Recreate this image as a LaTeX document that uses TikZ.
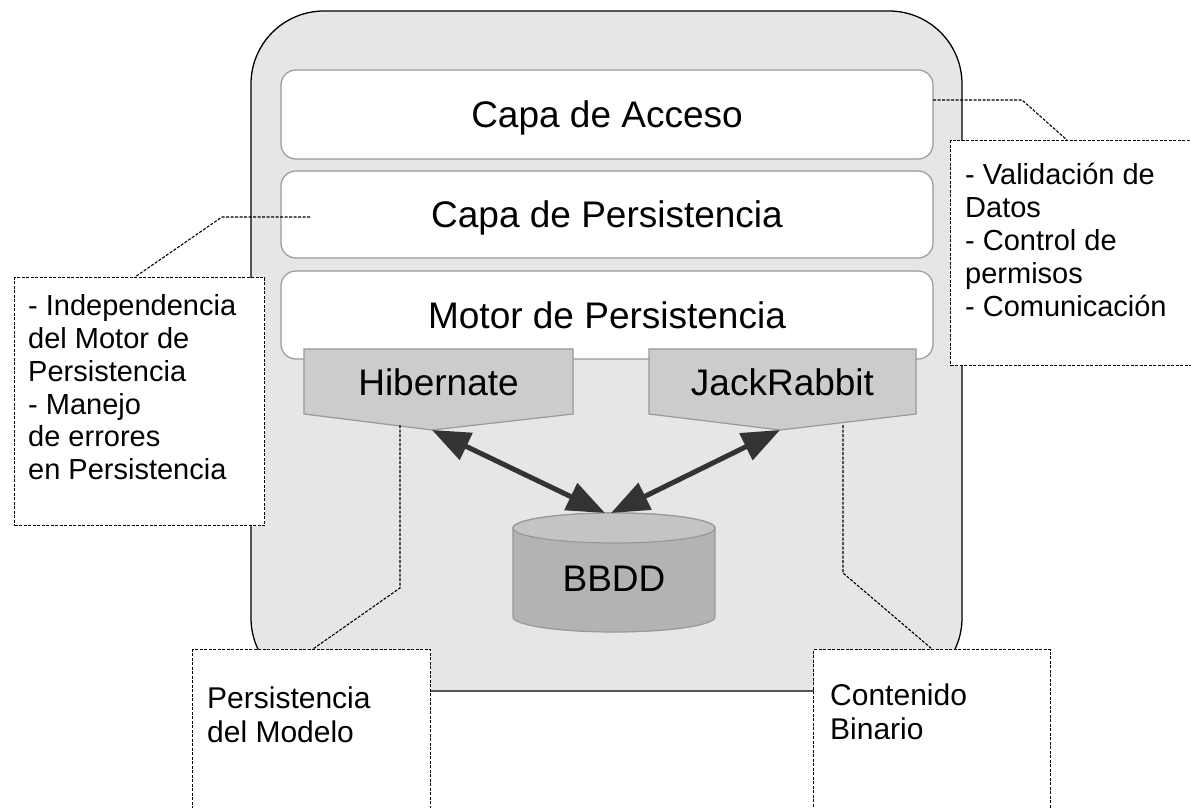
\documentclass[tikz,border=0pt]{standalone}
\usepackage{fontspec}
\setmainfont{Liberation Sans}
\usetikzlibrary{arrows.meta}
\definecolor{outerfill}{HTML}{E6E6E6}
\definecolor{layerline}{HTML}{999999}
\definecolor{enginefill}{HTML}{CCCCCC}
\definecolor{dbbody}{HTML}{B3B3B3}
\definecolor{dbtopfill}{HTML}{C4C4C4}
\definecolor{arrowcol}{HTML}{333333}
\begin{document}
\begin{tikzpicture}[x=1pt,y=-1pt,
  outerbox/.style={draw=black, line width=1.3pt, fill=outerfill, rounded corners=73pt, minimum width=711pt, minimum height=680pt, inner sep=0pt},
  layerbox/.style={draw=layerline, line width=1.2pt, fill=white, rounded corners=15pt, minimum width=652pt, inner sep=0pt, text height=26.5pt, text depth=0pt, font=\fontsize{37}{44}\selectfont},
  engine/.style={draw=layerline, line width=1.2pt, fill=enginefill},
  enginetext/.style={inner sep=0pt, text height=26.5pt, text depth=0pt, font=\fontsize{37}{44}\selectfont},
  notebox/.style={draw=black, line width=1.1pt, dash pattern=on 3pt off 1.5pt, fill=white},
  notetext/.style={inner sep=0pt, anchor=north west, align=left},
  leader/.style={draw=black, line width=1.1pt, dash pattern=on 3pt off 1.5pt},
  dbl/.style={draw=arrowcol, line width=5pt, {Triangle[length=38pt,width=29pt]}-{Triangle[length=38pt,width=29pt]}}
]
\useasboundingbox (0,0) rectangle (1191,808);
\clip (0,0) rectangle (1191,808);

% outer container
\node[outerbox] (outer) at (606.5,351) {};

% layers
\node[layerbox, minimum height=89pt] (acceso) at (607,114.5) {Capa de Acceso};
\node[layerbox, minimum height=87pt] (persist) at (607,214.5) {Capa de Persistencia};
\node[layerbox, minimum height=88pt] (motor) at (607,315) {Motor de Persistencia};

% engines
\path[engine] (304,349) -- (573,349) -- (573,414) -- (432,430) -- (304,414) -- cycle;
\node[enginetext] (hib) at (438.5,382) {Hibernate};
\coordinate (hibtip) at (432,430);

\path[engine] (649,349) -- (916,349) -- (916,414) -- (780,430) -- (649,414) -- cycle;
\node[enginetext] (jack) at (782.5,382) {JackRabbit};
\coordinate (jacktip) at (780,430);

% database cylinder
\path[draw=layerline, line width=1.2pt, fill=dbbody] (513,528) -- (513,617)
  arc[start angle=180, end angle=360, x radius=101pt, y radius=15pt] -- (715,528)
  arc[start angle=0, end angle=180, x radius=101pt, y radius=15pt] -- cycle;
\path[draw=layerline, line width=1.2pt, fill=dbtopfill] (614,528) ellipse [x radius=101pt, y radius=15pt];
\node[enginetext] (db) at (614,578) {BBDD};
\coordinate (dbinL) at (605,513);
\coordinate (dbinR) at (611,513);

% arrows
\draw[dbl] (hibtip) -- (dbinL);
\draw[dbl] (jacktip) -- (dbinR);

% notes
\node[notebox, minimum width=250pt, minimum height=225pt, anchor=north west] (rnote) at (950,140) {};
\node[notetext, font=\fontsize{29}{33}\selectfont] (rtext) at (965,162.5) {- Validación de\\Datos\\- Control de\\permisos\\- Comunicación};

\node[notebox, minimum width=250pt, minimum height=248pt, anchor=north west] (lnote) at (14,277) {};
\node[notetext, font=\fontsize{29}{32.8}\selectfont] (ltext) at (28,294.5) {- Independencia\\del Motor de\\Persistencia\\- Manejo\\de errores\\en Persistencia};

\node[notebox, minimum width=238pt, minimum height=200pt, anchor=north west] (blnote) at (192,649) {};
\node[notetext, font=\fontsize{30}{34}\selectfont] (bltext) at (207,687) {Persistencia\\del Modelo};

\node[notebox, minimum width=237pt, minimum height=200pt, anchor=north west] (brnote) at (813,649) {};
\node[notetext, font=\fontsize{30}{34}\selectfont] (brtext) at (830,684) {Contenido\\Binario};

% leader lines
\coordinate (a1) at (933,100);
\coordinate (a2) at (1022,100);
\coordinate (a3) at (1067,140);
\draw[leader] (a1) -- (a2) -- (a3);

\coordinate (p1) at (310,217);
\coordinate (p2) at (222,217);
\coordinate (p3) at (135,277);
\draw[leader] (p1) -- (p2) -- (p3);

\coordinate (h1) at (400,425);
\coordinate (h2) at (400,588);
\coordinate (h3) at (313,649);
\draw[leader] (h1) -- (h2) -- (h3);

\coordinate (j1) at (843,425);
\coordinate (j2) at (843,573);
\coordinate (j3) at (932,649);
\draw[leader] (j1) -- (j2) -- (j3);
\end{tikzpicture}
\end{document}
